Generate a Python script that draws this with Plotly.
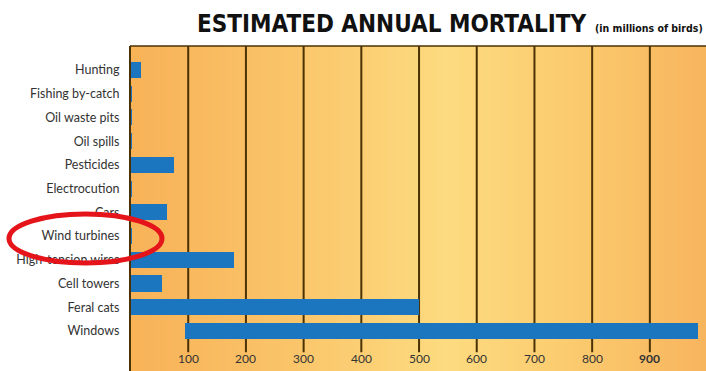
import plotly.graph_objects as go

# ---- data ----
categories = ["Windows", "Feral cats", "Cell towers", "High-tension wires", "Wind turbines",
              "Cars", "Electrocution", "Pesticides", "Oil spills", "Oil waste pits",
              "Fishing by-catch", "Hunting"]
low_values = [95, 0, 0, 0, 0, 0, 0, 0, 0, 0, 0, 0]
high_values = [983, 500, 54, 180, 2, 63, 2, 76, 2, 3, 2, 19]
tick_values = [100, 200, 300, 400, 500, 600, 700, 800, 900]
tick_labels = ["100", "200", "300", "400", "500", "600", "700", "800", "<b>900</b>"]

BAR = "#1B76BF"
GRID = "#4A3205"
TITLE_FONT = "DejaVu Sans Condensed, Roboto, Liberation Sans, sans-serif"

fig = go.Figure()
fig.add_trace(go.Bar(
    y=categories,
    x=[h - l for h, l in zip(high_values, low_values)],
    base=low_values,
    orientation="h",
    width=0.68,
    marker=dict(color=BAR, line=dict(width=0)),
    hoverinfo="skip",
))

shapes = []
# background gradient (decoration); each strip runs to the right edge to avoid seams
stops = [(0.0, (248, 178, 88)), (0.25, (250, 194, 103)), (0.55, (253, 219, 128)),
         (0.8, (251, 200, 108)), (1.0, (247, 180, 94))]


def col_at(t):
    for (t0, c0), (t1, c1) in zip(stops[:-1], stops[1:]):
        if t0 <= t <= t1:
            f = (t - t0) / (t1 - t0)
            return "rgb(%d,%d,%d)" % tuple(round(a + (b - a) * f) for a, b in zip(c0, c1))
    return "rgb(%d,%d,%d)" % stops[-1][1]


N = 96
for i in range(N):
    shapes.append(dict(type="rect", xref="paper", yref="paper",
                       x0=i / N, x1=1, y0=0, y1=1,
                       fillcolor=col_at((i + 0.5) / N), line=dict(width=0), layer="below"))
# grid lines
for v in tick_values:
    shapes.append(dict(type="line", xref="x", yref="paper", x0=v, x1=v, y0=0.058, y1=1,
                       line=dict(color=GRID, width=2), layer="below"))
# frame (left and top)
shapes.append(dict(type="line", xref="paper", yref="paper", x0=0, x1=0, y0=0, y1=1,
                   line=dict(color=GRID, width=2), layer="above"))
shapes.append(dict(type="line", xref="paper", yref="paper", x0=0, x1=1, y0=1, y1=1,
                   line=dict(color=GRID, width=1.5), layer="above"))
# red highlight ellipse
shapes.append(dict(type="circle", xref="paper", yref="paper",
                   x0=(9 - 130) / 576, x1=(162 - 130) / 576,
                   y0=(371 - 263) / 325, y1=(371 - 214) / 325,
                   line=dict(color="#E5141B", width=5), fillcolor="rgba(0,0,0,0)", layer="above"))

annotations = []
for v, t in zip(tick_values, tick_labels):
    annotations.append(dict(x=v, y=0.037, xref="x", yref="paper", text=t, showarrow=False,
                            font=dict(family="Lato", size=12, color="#333333"),
                            xanchor="center", yanchor="middle"))
annotations.append(dict(x=(391 - 130) / 576, y=(371 - 24) / 325, xref="paper", yref="paper",
                        text="<b>ESTIMATED ANNUAL MORTALITY</b>", showarrow=False,
                        font=dict(family=TITLE_FONT, size=24, color="#111111"),
                        xanchor="center", yanchor="middle"))
annotations.append(dict(x=(705 - 130) / 576, y=(371 - 28) / 325, xref="paper", yref="paper",
                        text="<b>(in millions of birds)</b>", showarrow=False,
                        font=dict(family=TITLE_FONT, size=10.5, color="#111111"),
                        xanchor="right", yanchor="middle"))

fig.update_layout(
    width=706, height=371,
    margin=dict(l=130, r=0, t=46, b=0),
    paper_bgcolor="white",
    plot_bgcolor="rgba(0,0,0,0)",
    showlegend=False,
    bargap=0,
    xaxis=dict(range=[-0.9, 997.3], showgrid=False, zeroline=False, showticklabels=False,
               ticks="", showline=False, fixedrange=True),
    yaxis=dict(categoryorder="array", categoryarray=categories, range=[-1.69, 12.01],
               showgrid=False, zeroline=False, showline=False, ticks="outside", ticklen=7,
               tickcolor="rgba(0,0,0,0)",
               tickfont=dict(family="Lato", size=12.5, color="#333333"), fixedrange=True),
    shapes=shapes,
    annotations=annotations,
)

fig.write_html("out.html")
